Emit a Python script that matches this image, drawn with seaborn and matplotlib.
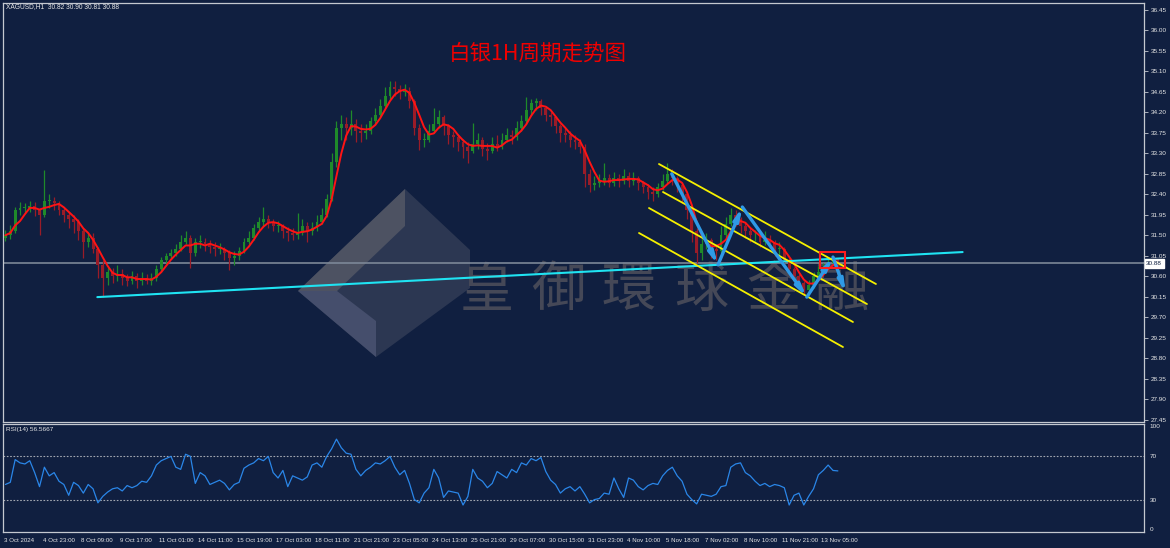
import numpy as np
import pandas as pd
import matplotlib
matplotlib.use("Agg")
import matplotlib.pyplot as plt
from matplotlib.patches import Polygon, Rectangle
import seaborn as sns

# ---------------- data ----------------
symbol_header = "XAGUSD,H1  30.82 30.90 30.81 30.88"
rsi_header = "RSI(14) 56.5667"
title_text = "白银1H周期走势图"
watermark_chars = ["皇", "御", "環", "球", "金", "融"]

bars_per_group = 4          # each drawn candle = 4 hourly bars
first_open = 31.45
closes = [
    31.50, 31.60, 32.05, 32.10, 32.10, 32.15, 32.05, 31.95, 32.25, 32.25,
    32.20, 32.05, 31.95, 31.85, 31.80, 31.60, 31.35, 31.45, 31.20, 30.85,
    30.55, 30.70, 30.60, 30.65, 30.55, 30.50, 30.60, 30.50, 30.55, 30.50,
    30.55, 30.75, 30.95, 31.05, 31.10, 31.20, 31.35, 31.45, 31.10, 31.35,
    31.35, 31.30, 31.25, 31.20, 31.20, 31.10, 31.00, 31.05, 31.15, 31.35,
    31.45, 31.65, 31.80, 31.85, 31.80, 31.70, 31.70, 31.60, 31.55, 31.50,
    31.55, 31.70, 31.60, 31.65, 31.80, 31.95, 32.30, 33.10, 33.85, 33.95,
    33.85, 33.95, 33.80, 33.75, 33.80, 34.00, 34.15, 34.35, 34.55, 34.75,
    34.72, 34.65, 34.68, 34.45, 33.85, 33.60, 33.60, 33.80, 33.95, 34.10,
    33.90, 33.70, 33.65, 33.55, 33.45, 33.35, 33.50, 33.60, 33.40, 33.35,
    33.50, 33.45, 33.60, 33.70, 33.65, 33.85, 34.00, 34.25, 34.40, 34.45,
    34.30, 34.15, 34.10, 33.90, 33.75, 33.70, 33.60, 33.55, 33.45, 32.85,
    32.60, 32.65, 32.70, 32.75, 32.65, 32.75, 32.70, 32.80, 32.70, 32.75,
    32.65, 32.55, 32.45, 32.40, 32.55, 32.70, 32.85, 32.75, 32.60, 32.40,
    32.05, 31.60, 31.10, 31.30, 31.40, 31.20, 31.15, 31.50, 31.75, 31.95,
    31.85, 31.70, 31.60, 31.50, 31.50, 31.35, 31.40, 31.35, 31.20, 31.20,
    30.95, 30.75, 30.60, 30.45, 30.30, 30.40, 30.60, 30.70, 30.80, 30.90,
    30.97, 30.88,
]
highs = [
    31.62, 31.72, 32.12, 32.22, 32.20, 32.25, 32.22, 32.10, 32.93, 32.40,
    32.35, 32.25, 32.10, 32.00, 31.95, 31.85, 31.65, 31.55, 31.55, 31.25,
    30.95, 30.80, 30.78, 30.85, 30.75, 30.65, 30.72, 30.68, 30.70, 30.65,
    30.68, 30.85, 31.02, 31.12, 31.20, 31.30, 31.50, 31.60, 31.50, 31.45,
    31.50, 31.45, 31.40, 31.35, 31.32, 31.25, 31.18, 31.15, 31.25, 31.45,
    31.60, 31.75, 31.90, 32.12, 31.95, 31.85, 31.82, 31.75, 31.68, 31.65,
    31.99, 31.85, 31.78, 31.80, 31.95, 32.10, 32.40, 33.30, 34.00, 34.15,
    34.10, 34.25, 34.05, 33.95, 33.95, 34.10, 34.30, 34.50, 34.75, 34.90,
    34.88, 34.80, 34.82, 34.75, 34.50, 33.95, 33.75, 33.95, 34.30, 34.25,
    34.15, 33.95, 33.80, 33.72, 33.62, 33.55, 33.97, 33.75, 33.65, 33.52,
    33.65, 33.70, 33.75, 33.85, 33.82, 34.00, 34.15, 34.54, 34.50, 34.52,
    34.50, 34.35, 34.20, 34.12, 33.95, 33.85, 33.78, 33.70, 33.62, 33.50,
    32.95, 32.80, 32.85, 33.09, 32.85, 32.90, 32.85, 32.95, 32.88, 32.90,
    32.80, 32.70, 32.62, 32.55, 32.65, 32.85, 33.09, 32.95, 32.80, 32.65,
    32.45, 32.10, 31.65, 31.45, 31.55, 31.45, 31.30, 31.70, 31.90, 32.10,
    32.05, 31.90, 31.78, 31.65, 31.62, 31.55, 31.60, 31.50, 31.40, 31.35,
    31.25, 31.00, 30.80, 30.65, 30.50, 30.52, 30.70, 30.82, 30.90, 31.00,
    31.05, 31.00,
]
lows = [
    31.38, 31.42, 31.55, 31.95, 31.98, 32.00, 31.92, 31.50, 31.90, 32.10,
    32.05, 31.95, 31.80, 31.65, 31.55, 31.40, 31.00, 31.25, 31.10, 30.55,
    30.14, 30.40, 30.45, 30.50, 30.40, 30.38, 30.42, 30.35, 30.40, 30.42,
    30.40, 30.50, 30.70, 30.90, 30.98, 31.05, 31.15, 31.30, 30.78, 31.05,
    31.22, 31.15, 31.12, 31.05, 31.08, 30.95, 30.74, 30.85, 30.95, 31.10,
    31.30, 31.40, 31.60, 31.70, 31.65, 31.60, 31.58, 31.45, 31.38, 31.40,
    31.42, 31.50, 31.35, 31.50, 31.60, 31.75, 31.90, 32.25, 33.00, 33.60,
    33.60, 33.70, 33.55, 33.55, 33.62, 33.72, 33.95, 34.10, 34.30, 34.50,
    34.55, 34.50, 34.55, 34.30, 33.70, 33.37, 33.45, 33.55, 33.75, 33.85,
    33.70, 33.50, 33.45, 33.35, 33.20, 33.09, 33.30, 33.40, 33.25, 33.15,
    33.30, 33.35, 33.40, 33.55, 33.50, 33.60, 33.80, 33.95, 34.15, 34.25,
    34.15, 34.00, 33.90, 33.75, 33.55, 33.55, 33.45, 33.40, 33.30, 32.55,
    32.45, 32.50, 32.55, 32.60, 32.55, 32.58, 32.55, 32.62, 32.55, 32.60,
    32.50, 32.42, 32.30, 32.25, 32.35, 32.50, 32.65, 32.60, 32.45, 32.20,
    31.85, 31.35, 30.89, 30.95, 31.20, 31.00, 30.95, 31.10, 31.45, 31.70,
    31.70, 31.55, 31.45, 31.35, 31.38, 31.25, 31.28, 31.22, 31.05, 31.05,
    30.85, 30.62, 30.48, 30.32, 30.20, 30.22, 30.35, 30.55, 30.65, 30.75,
    30.85, 30.81,
]
rsi_values = [
    44, 46, 67, 64, 63, 66, 55, 42, 60, 52,
    55, 47, 44, 34, 46, 43, 36, 44, 40, 27,
    33, 37, 40, 41, 38, 43, 41, 43, 47, 46,
    52, 62, 66, 68, 70, 60, 58, 72, 70, 45,
    55, 52, 44, 46, 48, 45, 39, 44, 46, 59,
    62, 64, 68, 66, 70, 55, 50, 57, 42, 52,
    50, 48, 51, 62, 64, 60, 70, 77, 86, 78,
    73, 72, 58, 52, 57, 60, 64, 63, 66, 70,
    60, 53, 57, 45, 30, 27, 36, 41, 58, 50,
    32, 38, 37, 36, 25, 33, 58, 50, 47, 41,
    45, 56, 53, 50, 58, 55, 64, 62, 68, 66,
    69, 56, 48, 44, 36, 40, 42, 38, 42, 35,
    27, 30, 31, 36, 35, 50, 40, 32, 50, 48,
    42, 39, 43, 45, 44, 52, 57, 60, 52, 47,
    35, 30, 26, 35, 34, 33, 35, 42, 43, 60,
    63, 64, 55, 52, 47, 43, 45, 42, 44, 43,
    41, 25, 34, 36, 25, 33, 40, 53, 57, 62,
    57, 56.57,
]
ma_window = 4

x_tick_labels = ["3 Oct 2024", "4 Oct 23:00", "8 Oct 09:00", "9 Oct 17:00",
                 "11 Oct 01:00", "14 Oct 11:00", "15 Oct 19:00", "17 Oct 03:00",
                 "18 Oct 11:00", "21 Oct 21:00", "23 Oct 05:00", "24 Oct 13:00",
                 "25 Oct 21:00", "29 Oct 07:00", "30 Oct 15:00", "31 Oct 23:00",
                 "4 Nov 10:00", "5 Nov 18:00", "7 Nov 02:00", "8 Nov 10:00",
                 "11 Nov 21:00", "13 Nov 05:00"]
bars_per_label = 32
price_ticks = [36.45, 36.00, 35.55, 35.10, 34.65, 34.20, 33.75, 33.30, 32.85,
               32.40, 31.95, 31.50, 31.05, 30.60, 30.15, 29.70, 29.25, 28.80,
               28.35, 27.90, 27.45]
rsi_ticks = [100, 70, 30, 0]
rsi_levels = [70, 30]
current_price = 30.88

# user drawings (bar index, price)
support_bars = [77, 788]
support_prices = [30.14, 31.13]
channel_bars = [[538.5, 716.8], [541.8, 709.4], [530.3, 697.9], [522.1, 689.7]]
channel_prices = [[33.065, 30.428], [32.45, 29.988], [32.098, 29.593], [31.549, 29.043]]
wave_bars = [549, 587, 607, 660, 681.5, 692]
wave_prices = [32.85, 30.85, 32.12, 30.14, 31.02, 30.23]
box_bars = [671, 691]
box_prices = [30.78, 31.13]

# ---------------- style ----------------
BG = "#101f40"
FRAME = "#c4c8d0"
TXT = "#e6e6e6"
UP = "#1f8a2a"
DOWN = "#9a1c28"

sns.set_theme(style="dark", rc={"axes.facecolor": BG, "figure.facecolor": BG,
                                "axes.edgecolor": FRAME, "axes.grid": False})
plt.rcParams["font.family"] = ["Liberation Sans", "DejaVu Sans"]

W, H = 1170, 548
fig = plt.figure(figsize=(W / 100, H / 100), dpi=100, facecolor=BG)


def px_rect(l, t, r, b):
    return [l / W, 1 - b / H, (r - l) / W, (b - t) / H]


def fx(x):
    return x / W


def fy(y):
    return 1 - y / H


ax = fig.add_axes(px_rect(3, 3, 1144, 422))
ax2 = fig.add_axes(px_rect(3, 424, 1144, 532))

px_per_bar = 1.217
x_left, x_right = -0.5, -0.5 + 1141 / px_per_bar
for a in (ax, ax2):
    a.set_facecolor(BG)
    a.set_xlim(x_left, x_right)
    for s in a.spines.values():
        s.set_color(FRAME)
        s.set_linewidth(0.9)

ax.set_ylim(36.45 - 412 / 45.5, 36.45 + 7 / 45.5)
ax2.set_ylim(0, 100)

# ---------------- watermark ----------------
logo_fill = [(405, 189), (298, 291), (376, 357), (470, 288), (470, 250)]
logo_upper = [(405, 189), (298, 291), (337, 291), (405, 226)]
logo_lower = [(298, 291), (376, 357), (376, 321), (337, 291)]
for poly, col in ((logo_fill, "#2c3752"), (logo_upper, "#4d5262"), (logo_lower, "#454e6c")):
    ax.add_patch(Polygon([(fx(a), fy(b)) for a, b in poly], closed=True,
                         transform=fig.transFigure, facecolor=col, edgecolor="none",
                         zorder=1))
wm_centers = [487, 558, 629, 701, 773, 841]
for ch, cx in zip(watermark_chars, wm_centers):
    ax.text(fx(cx), fy(291), ch, transform=fig.transFigure, ha="center", va="center",
            fontsize=39, color="#454857", family=["Noto Sans CJK TC", "DejaVu Sans"],
            zorder=1)

# ---------------- candles ----------------
c = np.array(closes, dtype=float)
hi = np.array(highs, dtype=float)
lo = np.array(lows, dtype=float)
o = np.r_[first_open, c[:-1]]
n = len(c)
xc = np.arange(n) * bars_per_group + (bars_per_group - 1) / 2
cols = np.where(c >= o, UP, DOWN)
ax.vlines(xc, lo, hi, colors=cols, linewidth=0.9, zorder=3)
ax.bar(xc, np.maximum(np.abs(c - o), 0.015), bottom=np.minimum(o, c), width=2.4,
       color=cols, linewidth=0, zorder=3)

ma = pd.Series(c).rolling(ma_window, min_periods=1).mean()
sns.lineplot(x=xc, y=ma.values, ax=ax, color="#ff1414", linewidth=1.4, zorder=5)

# current price line
ax.axhline(current_price, color="#7c8797", linewidth=1.2, zorder=2)

# support line (cyan)
ax.plot(support_bars, support_prices, color="#1fe3f2", linewidth=1.5, zorder=6)
# channel lines (yellow)
for bx, py in zip(channel_bars, channel_prices):
    ax.plot(bx, py, color="#f5f000", linewidth=1.3, zorder=6)
# zigzag arrows (blue)
for i in range(len(wave_bars) - 1):
    ax.annotate("", xy=(wave_bars[i + 1], wave_prices[i + 1]),
                xytext=(wave_bars[i], wave_prices[i]),
                arrowprops=dict(arrowstyle="-|>,head_length=0.55,head_width=0.12",
                                color="#2f9ae6", lw=2.4, shrinkA=0, shrinkB=0),
                zorder=7)
# red box
ax.add_patch(Rectangle((box_bars[0], box_prices[0]), box_bars[1] - box_bars[0],
                       box_prices[1] - box_prices[0], fill=False, edgecolor="#ff1e1e",
                       linewidth=1.5, zorder=8))

# ---------------- RSI ----------------
sns.lineplot(x=xc, y=np.array(rsi_values, dtype=float), ax=ax2, color="#2a86e8",
             linewidth=0.9, zorder=3)
for lv in rsi_levels:
    ax2.axhline(lv, color="#a4a9b2", linewidth=0.8, linestyle=(0, (1.5, 1.5)), zorder=2)

# ---------------- axes / ticks ----------------
ax.set_xticks([])
ax.yaxis.tick_right()
ax.set_yticks(price_ticks)
ax.set_yticklabels([f"{v:.2f}" for v in price_ticks])
ax.tick_params(axis="y", colors=FRAME, labelcolor=TXT, labelsize=4.6, length=3,
               width=0.6, pad=2, direction="out")
ax.set_xlabel("")
ax.set_ylabel("")

ax2.yaxis.tick_right()
ax2.set_yticks(rsi_ticks)
ax2.set_yticklabels([str(v) for v in rsi_ticks])
ax2.tick_params(axis="y", colors=FRAME, labelcolor=TXT, labelsize=4.6, length=0, pad=4)
ylabs = ax2.get_yticklabels()
ylabs[0].set_va("top")
ylabs[-1].set_va("bottom")
xt = np.arange(len(x_tick_labels)) * bars_per_label
ax2.set_xticks(xt)
ax2.set_xticklabels(x_tick_labels)
ax2.tick_params(axis="x", colors=FRAME, labelcolor=TXT, labelsize=4.4, length=3,
                width=0.6, pad=1.5, direction="out")
for lab in ax2.get_xticklabels():
    lab.set_ha("left")
ax2.set_xlabel("")
ax2.set_ylabel("")

# price tag on axis
ax.text(1.002, current_price, f"{current_price:.2f}", transform=ax.get_yaxis_transform(),
        ha="left", va="center", fontsize=4.6, color="#101f40", zorder=10, clip_on=False,
        bbox=dict(boxstyle="square,pad=0.25", facecolor="white", edgecolor="white"))

# ---------------- texts ----------------
fig.text(fx(6), fy(6.5), symbol_header, ha="left", va="center", fontsize=4.8, color=TXT)
fig.text(fx(6), fy(429), rsi_header, ha="left", va="center", fontsize=4.6, color=TXT)
fig.text(fx(538), fy(54), title_text, ha="center", va="center", fontsize=15.5,
         color="#f00000", family=["Noto Sans CJK SC", "DejaVu Sans"])

fig.savefig("out.png", dpi=100, facecolor=BG)
